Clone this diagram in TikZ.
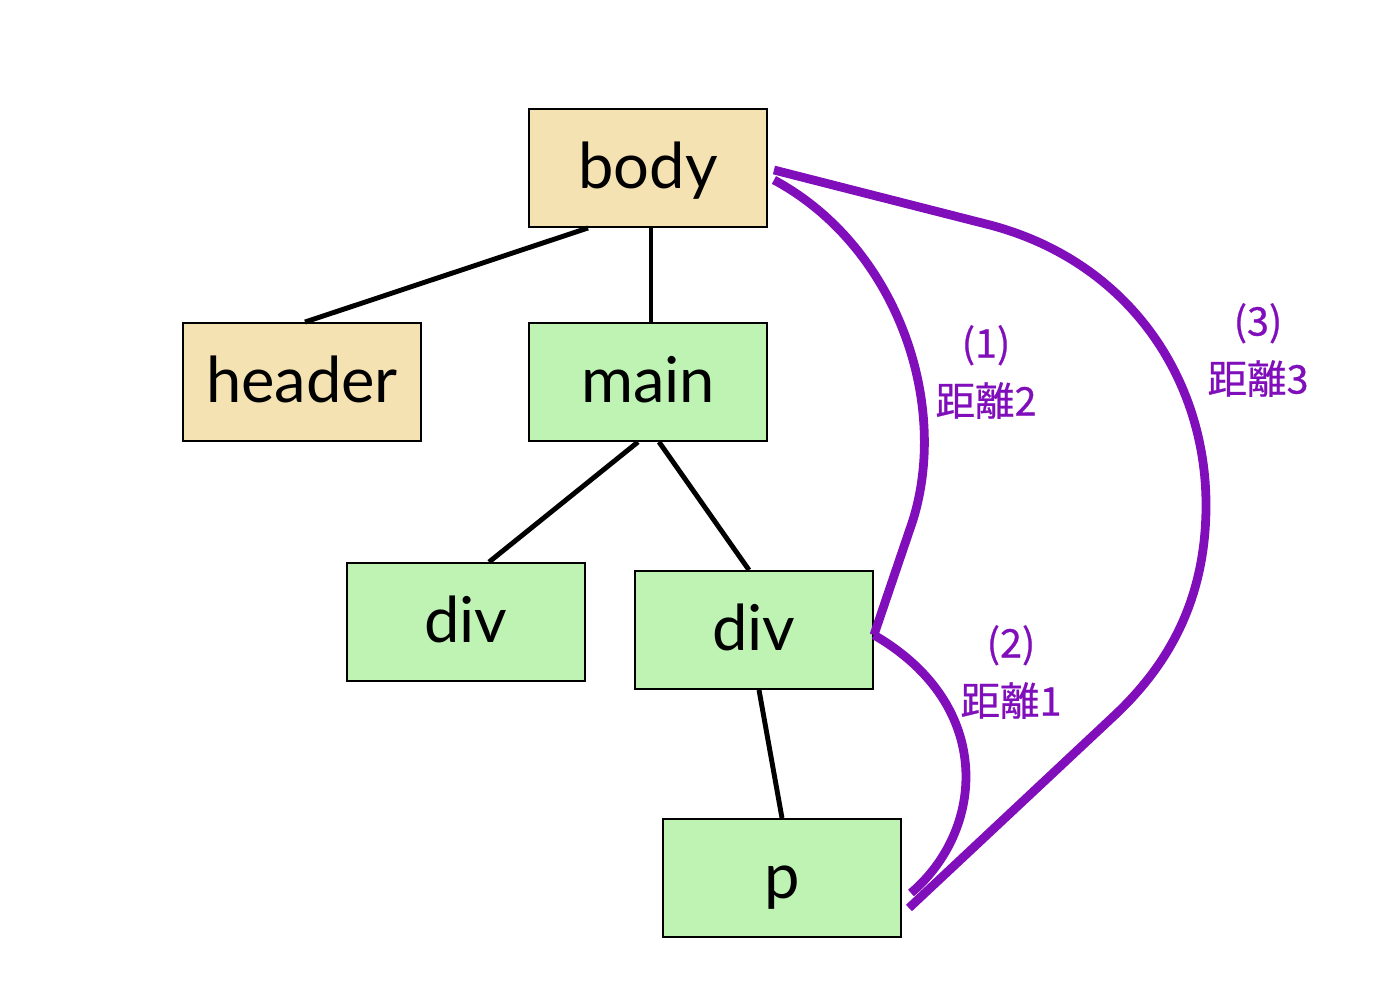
\documentclass[tikz,border=0pt]{standalone}
\usepackage{fontspec}
\setmainfont{Lato}
\newfontfamily\cjkfont[FakeBold=0.6]{Noto Sans CJK JP}
\usepackage{tikz}
\usetikzlibrary{calc}
\definecolor{tagtan}{RGB}{245, 226, 178}
\definecolor{taggreen}{RGB}{190, 243, 180}
\definecolor{distpurple}{RGB}{128, 14, 186}

\begin{document}
\begin{tikzpicture}[
  x=0.02cm, y=-0.02cm,
  tag/.style={draw, line width=1.1pt, minimum width=4.76cm, minimum height=2.36cm, inner sep=0pt,
    text height=28pt, text depth=5.2pt, font=\fontsize{36}{40}\selectfont},
  edge/.style={line width=2.8pt},
  dist/.style={distpurple, line width=5pt},
  distlabel/.style={text=distpurple, align=center, font=\cjkfont\fontsize{22.5}{33}\selectfont}
]
  \useasboundingbox (0,0) rectangle (1378,1000);

  % Root
  \node[tag, fill=tagtan] (body) at (648, 168) {body};

  % Level 1
  \node[tag, fill=tagtan] (header) at (302, 382) {header};
  \node[tag, fill=taggreen] (main) at (648, 382) {main};

  % Level 2
  \node[tag, fill=taggreen] (div1) at (466, 622) {div};
  \node[tag, fill=taggreen] (div2) at (754, 630) {div};

  % Level 3
  \node[tag, fill=taggreen] (p) at (782, 878) {p};

  \draw[edge] ($(body.south)+(-60,0)$) -- ($(header.north)+(3,0)$);
  \draw[edge] ($(body.south)+(3,0)$) -- ($(main.north)+(3,0)$);
  \draw[edge] ($(main.south)+(-10,0)$) -- ($(div1.north)+(23,0)$);
  \draw[edge] ($(main.south)+(11,0)$) -- ($(div2.north)+(-5,0)$);
  \draw[edge] ($(div2.south)+(5,0)$) -- (p.north);

  % Distance paths
  \coordinate (bodyA) at ($(body.east)+(6,12)$);
  \coordinate (bodyB) at ($(body.east)+(6,2)$);
  \coordinate (divR) at ($(div2.east)+(0,5)$);
  \coordinate (pA) at ($(p.east)+(9,15)$);
  \coordinate (pB) at ($(p.east)+(7,30)$);

  \draw[dist, line join=miter] (bodyA) .. controls (895,245) and (950,400) .. (913,520) -- (divR);
  \draw[dist] (divR) .. controls (995,705) and (985,830) .. (pA);
  \draw[dist, line join=round] (bodyB) -- (990,225)
    .. controls (1130,262) and (1206,380) .. (1206,505)
    .. controls (1206,600) and (1168,665) .. (1115,715) -- (pB);

  % Annotations
  \node[distlabel] (lab1) at (986, 372) {(1)\\距離2};
  \node[distlabel] (lab2) at (1011, 672) {(2)\\距離1};
  \node[distlabel] (lab3) at (1258, 350) {(3)\\距離3};
\end{tikzpicture}
\end{document}
